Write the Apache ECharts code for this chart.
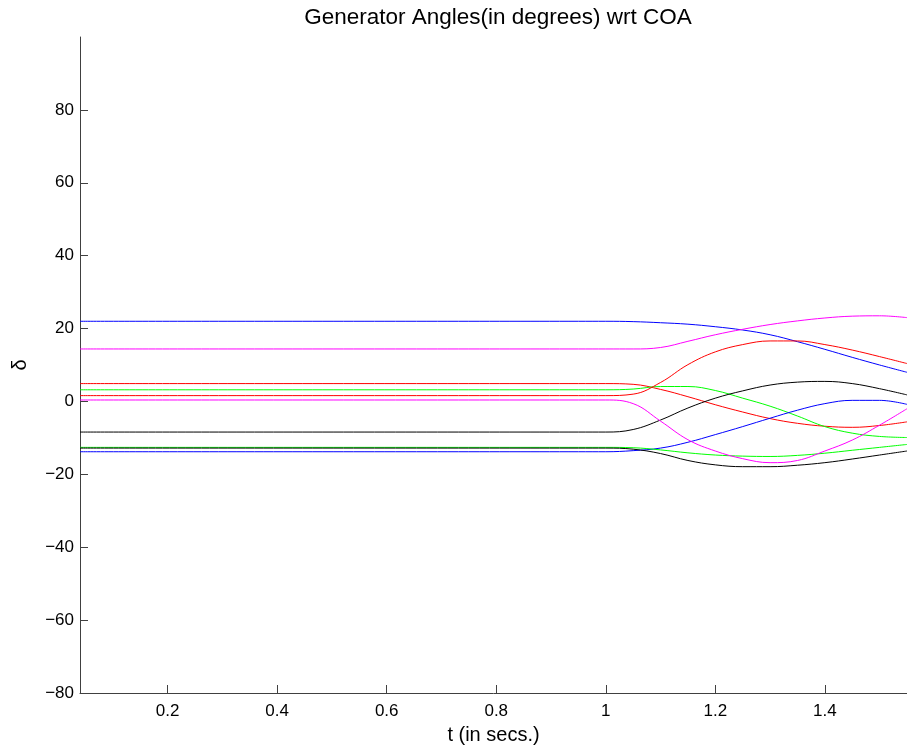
<!DOCTYPE html>
<html>
<head>
<meta charset="utf-8">
<script src="https://cdn.jsdelivr.net/npm/echarts@6/dist/echarts.min.js"></script>
<style>html,body{margin:0;padding:0;background:#fff}#c{width:907px;height:750px}</style>
</head>
<body>
<div id="c"></div>
<script>
const times = [0.04, 0.95, 1.0, 1.05, 1.1, 1.15, 1.2, 1.25, 1.3, 1.35, 1.4, 1.45, 1.5, 1.55];
const blue1    = [22.0, 22.0, 22.0, 21.9, 21.6, 21.2, 20.5, 19.6, 18.3, 16.4, 14.3, 12.1, 10.0, 8.0];
const magenta1 = [14.4, 14.4, 14.4, 14.4, 14.8, 16.5, 18.3, 19.8, 21.1, 22.1, 22.9, 23.4, 23.5, 23.0];
const red1     = [4.9, 4.9, 4.9, 4.7, 3.3, 1.3, -0.9, -2.9, -4.7, -6.0, -6.8, -7.1, -6.6, -5.6];
const green1   = [3.2, 3.2, 3.2, 3.4, 4.1, 4.1, 3.0, 0.9, -1.3, -4.0, -6.9, -8.7, -9.6, -9.9];
const red2     = [1.6, 1.6, 1.6, 2.0, 5.2, 10.1, 13.6, 15.6, 16.6, 16.6, 15.6, 14.1, 12.3, 10.4];
const magenta2 = [0.4, 0.4, 0.4, -0.6, -5.4, -10.5, -13.6, -15.7, -16.8, -16.2, -13.6, -10.6, -6.5, -2.0];
const black1   = [-8.4, -8.4, -8.4, -7.7, -5.1, -1.8, 0.9, 2.9, 4.5, 5.3, 5.5, 4.9, 3.5, 1.8];
const green2   = [-12.6, -12.6, -12.6, -12.7, -13.3, -14.1, -14.7, -15.0, -15.1, -14.8, -14.2, -13.4, -12.6, -11.8];
const black2   = [-12.8, -12.8, -12.8, -13.1, -14.3, -16.2, -17.4, -17.9, -17.9, -17.5, -16.8, -15.8, -14.7, -13.6];
const blue2    = [-13.8, -13.8, -13.8, -13.5, -12.8, -11.2, -9.1, -6.9, -4.6, -2.4, -0.6, 0.3, 0.3, -0.8];

const xTicks = [0.2, 0.4, 0.6, 0.8, 1, 1.2, 1.4];
const yTicks = [-80, -60, -40, -20, 0, 20, 40, 60, 80];

const seriesList = [
  ['blue1', blue1, '#0000ff'],
  ['red1', red1, '#ff0000'],
  ['green1', green1, '#00ff00'],
  ['magenta1', magenta1, '#ff00ff'],
  ['black1', black1, '#000000'],
  ['blue2', blue2, '#0000ff'],
  ['red2', red2, '#ff0000'],
  ['green2', green2, '#00ff00'],
  ['magenta2', magenta2, '#ff00ff'],
  ['black2', black2, '#000000']
];

const fmt = v => String(v).replace('-', '\u2212');
const chart = echarts.init(document.getElementById('c'));
chart.setOption({
  animation: false,
  backgroundColor: '#fff',
  textStyle: { fontFamily: 'Liberation Sans, Arial, sans-serif' },
  title: {
    text: 'Generator Angles(in degrees) wrt COA',
    left: 493, top: 1, textAlign: 'center',
    textStyle: { fontSize: 22.5, fontWeight: 'normal', color: '#000', fontFamily: 'Liberation Sans, Arial, sans-serif' }
  },
  grid: { left: 80, top: 37, right: 0, bottom: 57, containLabel: false },
  xAxis: {
    type: 'value', min: 0.04, max: 1.55,
    name: 't (in secs.)', nameLocation: 'middle', nameGap: 32,
    nameTextStyle: { fontSize: 20, color: '#000' },
    axisLine: { show: true, onZero: false, lineStyle: { color: '#404040', width: 1 } },
    axisTick: { show: true, inside: true, length: 8, customValues: xTicks, lineStyle: { color: '#404040' } },
    axisLabel: { customValues: xTicks, fontSize: 17, color: '#000', margin: 10, formatter: fmt },
    splitLine: { show: false }
  },
  yAxis: {
    type: 'value', min: -80, max: 100,
    name: '\u03b4', nameLocation: 'middle', nameGap: 50, nameRotate: 90,
    nameTextStyle: { fontSize: 20, color: '#000' },
    axisLine: { show: true, onZero: false, lineStyle: { color: '#404040', width: 1 } },
    axisTick: { show: true, inside: true, length: 8, customValues: yTicks, lineStyle: { color: '#404040' } },
    axisLabel: { customValues: yTicks, fontSize: 17, color: '#000', margin: 6, formatter: fmt },
    splitLine: { show: false }
  },
  series: seriesList.map(([name, vals, color]) => ({
    name, type: 'line', showSymbol: false, smooth: 0.4,
    data: times.map((t, i) => [t, vals[i]]),
    lineStyle: { color, width: 1 }, itemStyle: { color }
  }))
});
</script>
</body>
</html>
